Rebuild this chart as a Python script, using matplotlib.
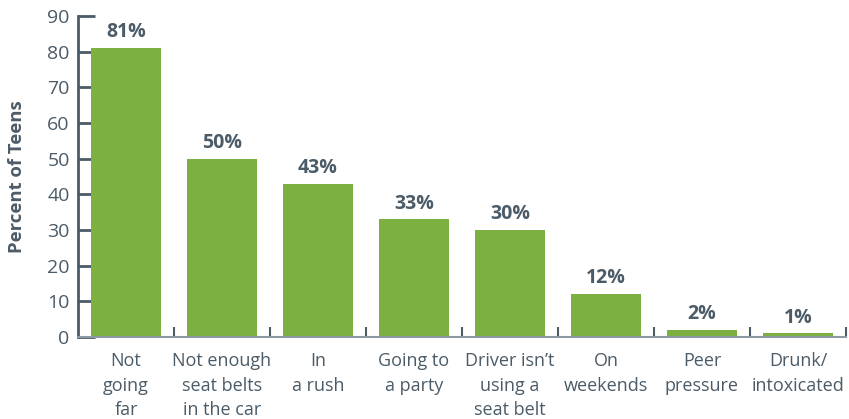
import matplotlib.pyplot as plt

reasons = ["Not\ngoing\nfar", "Not enough\nseat belts\nin the car", "In\na rush",
           "Going to\na party", "Driver isn\u2019t\nusing a\nseat belt", "On\nweekends",
           "Peer\npressure", "Drunk/\nintoxicated"]
percent = [81, 50, 43, 33, 30, 12, 2, 1]
y_ticks = [0, 10, 20, 30, 40, 50, 60, 70, 80, 90]

GREEN = "#7cb041"
INK = "#4b5b67"

plt.rcParams["font.family"] = ["Open Sans", "DejaVu Sans"]

fig = plt.figure(figsize=(8.49, 4.19), dpi=100)
ax = fig.add_axes([78 / 849, 1 - 337 / 419, (846 - 78) / 849, (337 - 16) / 419])

x = list(range(len(percent)))
ax.bar(x, percent, width=0.73, color=GREEN, zorder=2)

for xi, v in zip(x, percent):
    ax.text(xi, v + 1.6, f"{v}%", ha="center", va="bottom", fontsize=14,
            fontweight="bold", color=INK)

ax.set_xlim(-0.5, len(percent) - 0.5)
ax.set_ylim(0, 90)
ax.set_yticks(y_ticks)
ax.tick_params(axis="y", direction="in", length=12, width=2, color=INK,
               labelsize=14, labelcolor=INK, pad=6)

# category labels sit under the bars, small ticks mark the boundaries
ax.set_xticks(x)
ax.set_xticklabels(reasons, fontsize=13, color=INK, linespacing=1.45, va="top")
ax.tick_params(axis="x", length=0, pad=11)
ax.set_xticks([i + 0.5 for i in x], minor=True)
ax.tick_params(axis="x", which="minor", direction="in", length=7, width=1.5, color=INK)

ax.set_ylabel("Percent of Teens", fontsize=13.3, fontweight="bold", color=INK, labelpad=15)

for s in ["top", "right"]:
    ax.spines[s].set_visible(False)
ax.spines["left"].set_color(INK)
ax.spines["left"].set_linewidth(2)
ax.spines["bottom"].set_color("#8d9aa4")
ax.spines["bottom"].set_linewidth(1.5)

fig.savefig("out.png", dpi=100)
